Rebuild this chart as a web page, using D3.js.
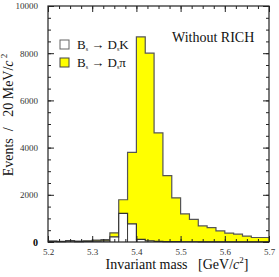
<!DOCTYPE html>
<html>
<head>
<meta charset="utf-8">
<script src="https://cdn.jsdelivr.net/npm/d3@7/dist/d3.min.js"></script>
<style>
  body { margin: 0; background: #fff; }
  svg text { font-family: "Liberation Serif", "DejaVu Serif", serif; }
</style>
</head>
<body>
<div id="graph"></div>
<script>
// bin lower edges, 20 MeV bins
const binEdges = d3.range(25).map(i => +(5.2 + i * 0.02).toFixed(2));
// Bs -> Ds pi (yellow)
const dspi = [40, 30, 60, 40, 50, 80, 100, 390, 1790, 3800, 8690, 8000, 4620, 2810, 1870, 1190, 960, 680, 610, 470, 380, 330, 250, 190, 190];
// Bs -> Ds K (white)
const dsk = [30, 20, 40, 20, 30, 40, 50, 220, 1210, 770, 110, 50, 30, 20, 15, 10, 10, 5, 5, 5, 5, 5, 5, 5, 5];
const xTicks = [5.2, 5.3, 5.4, 5.5, 5.6, 5.7];
const yTicks = [0, 2000, 4000, 6000, 8000, 10000];

const w = 279, h = 277;
const pLeft = 48, pRight = 269, pTop = 6, pBottom = 242;

const svg = d3.select('#graph').append('svg').attr('width', w).attr('height', h);

const x = d3.scaleLinear().domain([5.2, 5.7]).range([pLeft, pRight]);
const y = d3.scaleLinear().domain([0, 10000]).range([pBottom, pTop]);

function steps(vals) {
  const pts = binEdges.map((m, i) => ({m: m, v: vals[i]}));
  pts.push({m: 5.7, v: vals[vals.length - 1]});
  return pts;
}
const area = d3.area().x(d => x(d.m)).y0(y(0)).y1(d => y(d.v)).curve(d3.curveStepAfter);
const line = d3.line().x(d => x(d.m)).y(d => y(d.v)).curve(d3.curveStepAfter);

svg.append('path').datum(steps(dspi)).attr('d', area).attr('fill', '#ffff00');
svg.append('path').datum(steps(dspi)).attr('d', line).attr('fill', 'none').attr('stroke', '#555').attr('stroke-width', 1.2);
svg.append('path').datum(steps(dsk)).attr('d', area).attr('fill', '#fff');
svg.append('path').datum(steps(dsk)).attr('d', line).attr('fill', 'none').attr('stroke', '#333').attr('stroke-width', 1.2);
// vertical bin edges of white histogram
svg.append('g').selectAll('line').data(binEdges.slice(7, 11)).enter().append('line')
  .attr('x1', d => x(d)).attr('x2', d => x(d))
  .attr('y1', y(0)).attr('y2', (d, i) => y(Math.min(dsk[i + 6], dsk[i + 7])))
  .attr('stroke', '#333').attr('stroke-width', 1);

// frame
svg.append('rect').attr('x', pLeft).attr('y', pTop).attr('width', pRight - pLeft).attr('height', pBottom - pTop)
  .attr('fill', 'none').attr('stroke', '#222').attr('stroke-width', 1.2);

const xMinor = d3.range(21).map(i => 5.2 + i * 0.025);
const yMinor = d3.range(21).map(i => i * 500);

function axisG(axis, tr) {
  const g = svg.append('g').attr('transform', tr).call(axis);
  g.select('.domain').remove();
  g.selectAll('.tick line').attr('stroke', '#222');
  return g;
}
axisG(d3.axisBottom(x).tickValues(xMinor).tickSize(-3).tickFormat(''), `translate(0,${pBottom})`);
const xg = axisG(d3.axisBottom(x).tickValues(xTicks).tickSize(-6).tickPadding(7).tickFormat(d3.format('.1f')), `translate(0,${pBottom})`);
xg.selectAll('text').attr('font-size', 9).attr('fill', '#333');
axisG(d3.axisTop(x).tickValues(xMinor).tickSize(-3).tickFormat(''), `translate(0,${pTop})`);
axisG(d3.axisTop(x).tickValues(xTicks).tickSize(-6).tickFormat(''), `translate(0,${pTop})`);

axisG(d3.axisLeft(y).tickValues(yMinor).tickSize(-3).tickFormat(''), `translate(${pLeft},0)`);
const yg = axisG(d3.axisLeft(y).tickValues(yTicks).tickSize(-6).tickPadding(10).tickFormat(d => d), `translate(${pLeft},0)`);
yg.selectAll('text').attr('font-size', 9).attr('fill', '#333');
yg.selectAll('.tick').filter(d => d === 0).select('text')
  .attr('font-family', 'Liberation Sans, Arial, sans-serif').attr('font-weight', 'bold')
  .attr('font-size', 10).attr('fill', '#000');
axisG(d3.axisRight(y).tickValues(yMinor).tickSize(-3).tickFormat(''), `translate(${pRight},0)`);
axisG(d3.axisRight(y).tickValues(yTicks).tickSize(-6).tickFormat(''), `translate(${pRight},0)`);

// axis titles
const xt = svg.append('text').attr('x', 177).attr('y', 269).attr('text-anchor', 'middle')
  .attr('font-size', 14).attr('fill', '#111');
xt.append('tspan').text('Invariant mass\u2002 [GeV/');
xt.append('tspan').attr('font-style', 'italic').text('c');
xt.append('tspan').attr('font-size', 9).attr('dy', -6).text('2');
xt.append('tspan').attr('dy', 6).text(']');

const yt = svg.append('text').attr('transform', 'translate(13,115) rotate(-90)').attr('text-anchor', 'middle')
  .attr('font-size', 14).attr('fill', '#111');
yt.append('tspan').text('Events\u2002/\u2002 20 MeV/');
yt.append('tspan').attr('font-style', 'italic').text('c');
yt.append('tspan').attr('font-size', 9).attr('dy', -6).text(' 2');

svg.append('text').attr('x', 172).attr('y', 42).attr('font-size', 14).attr('fill', '#111').text('Without RICH');

// legend
const legend = [
  {fill: '#fff', stroke: '#666', label: 'K'},
  {fill: '#ffff00', stroke: '#444', label: 'π'}
];
const lg = svg.append('g');
legend.forEach((d, i) => {
  const yy = 40 + i * 18;
  lg.append('rect').attr('x', 60).attr('y', yy).attr('width', 9).attr('height', 9)
    .attr('fill', d.fill).attr('stroke', d.stroke).attr('stroke-width', 1);
  const t = lg.append('text').attr('x', 77).attr('y', yy + 9).attr('font-size', 13).attr('fill', '#111');
  t.append('tspan').text('B');
  t.append('tspan').attr('font-size', 6).attr('dy', 2).text('s');
  t.append('tspan').attr('dy', -2).text(' \u2192 D');
  t.append('tspan').attr('font-size', 6).attr('dy', 2).text('s');
  t.append('tspan').attr('dy', -2).text(d.label);
});
</script>
</body>
</html>
